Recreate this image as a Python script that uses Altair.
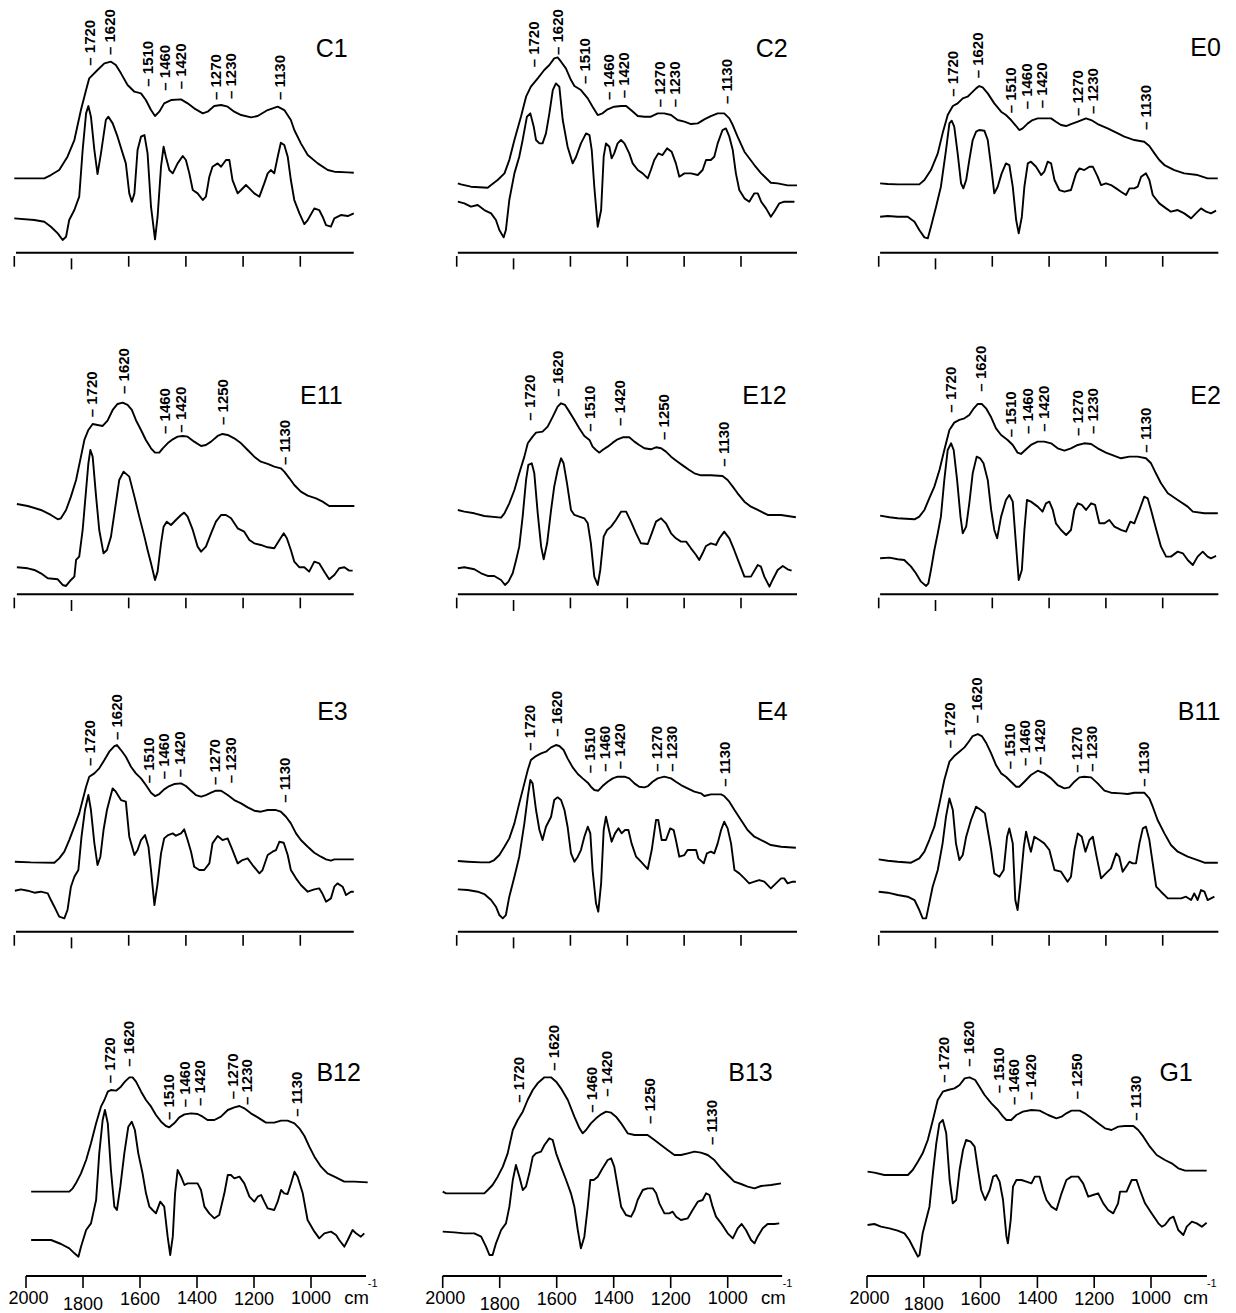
import altair as alt
import pandas as pd

# ---------------- data (wavenumber cm-1, intensity in arbitrary units) ----------------
TICKS = [2000, 1800, 1600, 1400, 1200, 1000]
TICK_LABELS = ["2000", "1800", "1600", "1400", "1200", "1000"]
TICK_LABEL_AT = [1991, 1800, 1600, 1400, 1200, 1000]

C1_upper = [(2000,223),(1895,223),(1872,233),(1843,248),(1814,288),(1790,338),(1767,428),(1749,488),(1738,523),(1709,548),(1685,568),(1662,573),(1645,563),(1627,538),(1604,503),(1580,483),(1557,478),(1540,458),(1522,428),(1508,410),(1493,423),(1476,448),(1452,458),(1417,460),(1394,448),(1371,433),(1341,418),(1324,423),(1301,440),(1277,443),(1254,438),(1231,423),(1207,413),(1172,406),(1149,410),(1114,428),(1079,438),(1056,428),(1033,398),(1021,368),(998,328),(974,293),(939,268),(904,248),(881,243),(834,241),(813,240)]
C1_lower = [(2000,103),(1930,98),(1895,93),(1872,78),(1848,58),(1831,38),(1819,48),(1808,98),(1790,128),(1773,168),(1761,308),(1749,418),(1741,440),(1732,408),(1720,308),(1709,236),(1697,298),(1680,398),(1671,408),(1656,388),(1639,348),(1621,298),(1610,268),(1598,178),(1589,153),(1580,178),(1569,308),(1557,348),(1545,353),(1534,298),(1522,138),(1508,40),(1499,108),(1487,258),(1478,318),(1470,288),(1458,248),(1446,238),(1429,268),(1411,290),(1400,278),(1388,238),(1376,188),(1359,178),(1341,158),(1330,168),(1318,228),(1307,258),(1289,268),(1277,258),(1260,278),(1248,278),(1237,218),(1219,178),(1207,188),(1190,203),(1178,193),(1161,178),(1143,168),(1126,208),(1114,238),(1103,248),(1091,238),(1079,288),(1068,330),(1056,323),(1044,288),(1033,218),(1021,158),(1003,118),(986,86),(974,98),(951,133),(934,128),(922,108),(910,83),(893,78),(881,103),(858,113),(834,110),(813,118)]
C1_peaks = [("1720",1734,561),("1620",1664,593),("1510",1531,498),("1460",1473,486),("1420",1417,490),("1270",1295,458),("1230",1242,461),("1130",1070,458)]

C2_upper = [(1996,208),(1985,205),(1950,198),(1891,195),(1879,203),(1856,218),(1832,238),(1815,278),(1797,338),(1774,408),(1756,468),(1739,498),(1715,523),(1692,548),(1674,563),(1657,583),(1645,586),(1633,573),(1616,553),(1598,518),(1586,500),(1563,488),(1539,463),(1522,438),(1504,413),(1487,418),(1469,430),(1446,438),(1422,440),(1404,440),(1387,428),(1363,410),(1340,408),(1317,408),(1293,418),(1270,418),(1246,413),(1223,398),(1199,393),(1176,386),(1152,388),(1129,400),(1106,410),(1082,418),(1059,418),(1041,403),(1029,383),(1012,348),(988,303),(953,263),(929,238),(895,210),(871,208),(836,202),(803,202)]
C2_lower = [(1996,153),(1973,148),(1950,138),(1926,143),(1903,128),(1879,118),(1862,98),(1850,68),(1835,46),(1827,68),(1815,158),(1797,238),(1780,288),(1768,338),(1753,408),(1741,418),(1729,378),(1721,338),(1709,328),(1698,328),(1686,358),(1674,418),(1662,488),(1651,508),(1639,498),(1627,398),(1610,318),(1592,268),(1580,288),(1563,328),(1545,358),(1533,353),(1525,308),(1516,198),(1504,78),(1492,128),(1483,288),(1475,328),(1463,318),(1455,283),(1446,298),(1434,328),(1422,338),(1410,328),(1393,298),(1381,268),(1363,248),(1346,238),(1328,223),(1317,248),(1305,278),(1291,298),(1276,293),(1260,313),(1244,303),(1229,268),(1217,228),(1199,238),(1176,238),(1152,233),(1135,248),(1123,278),(1106,278),(1094,288),(1082,328),(1065,368),(1053,373),(1041,348),(1029,308),(1018,238),(1006,188),(988,163),(971,153),(953,178),(941,178),(929,153),(912,133),(895,108),(883,123),(865,148),(848,153),(824,153),(812,153)]
C2_peaks = [("1720",1727,556),("1620",1645,593),("1510",1549,506),("1460",1465,458),("1420",1413,463),("1270",1285,436),("1230",1231,436),("1130",1051,446)]

E0_upper = [(1995,208),(1968,206),(1933,205),(1857,205),(1839,218),(1816,248),(1792,298),(1775,358),(1757,413),(1739,440),(1722,448),(1704,463),(1687,468),(1675,478),(1657,493),(1646,500),(1634,496),(1616,478),(1593,448),(1569,423),(1552,413),(1534,398),(1516,380),(1505,368),(1493,373),(1475,388),(1458,398),(1440,403),(1417,403),(1393,403),(1376,393),(1358,383),(1340,380),(1323,386),(1299,393),(1270,403),(1252,398),(1229,386),(1194,373),(1158,358),(1135,348),(1100,338),(1065,333),(1047,320),(1029,298),(1012,278),(994,263),(959,248),(924,238),(877,233),(842,223),(806,223)]
E0_lower = [(1995,108),(1968,110),(1933,108),(1898,108),(1874,93),(1857,68),(1839,46),(1827,43),(1816,78),(1798,138),(1781,198),(1763,308),(1751,388),(1743,396),(1734,378),(1722,298),(1710,208),(1702,193),(1692,218),(1681,278),(1669,338),(1657,363),(1646,368),(1628,366),(1616,338),(1604,258),(1593,178),(1581,198),(1567,238),(1552,268),(1540,263),(1528,198),(1516,98),(1507,58),(1496,108),(1487,198),(1475,268),(1464,273),(1446,258),(1428,233),(1417,243),(1405,273),(1393,268),(1381,218),(1364,188),(1346,183),(1323,188),(1305,238),(1293,253),(1276,248),(1258,258),(1246,258),(1229,228),(1217,203),(1200,208),(1182,203),(1164,193),(1147,183),(1129,173),(1117,193),(1100,193),(1088,198),(1076,228),(1059,238),(1047,218),(1035,173),(1012,148),(988,133),(971,123),(947,128),(924,118),(900,103),(883,118),(865,133),(847,123),(830,118),(812,126)]
E0_peaks = [("1720",1739,468),("1620",1651,523),("1510",1534,418),("1460",1478,430),("1420",1426,433),("1270",1299,410),("1230",1244,416),("1130",1059,368)]

E11_upper = [(1991,271),(1953,265),(1907,253),(1872,238),(1848,225),(1837,228),(1819,253),(1802,293),(1784,343),(1767,413),(1755,463),(1741,493),(1726,511),(1709,508),(1691,505),(1674,521),(1656,553),(1639,571),(1621,575),(1604,568),(1589,553),(1575,523),(1557,493),(1540,463),(1522,438),(1508,425),(1493,425),(1481,438),(1464,453),(1446,465),(1429,473),(1411,475),(1394,473),(1371,458),(1347,445),(1330,448),(1312,458),(1289,475),(1272,481),(1254,478),(1231,468),(1207,453),(1184,433),(1161,413),(1138,398),(1114,391),(1091,383),(1068,378),(1056,368),(1038,348),(1021,328),(998,308),(974,296),(945,288),(922,278),(899,265),(870,265),(811,265)]
E11_lower = [(1991,81),(1953,78),(1930,73),(1907,63),(1883,48),(1848,45),(1831,28),(1819,25),(1802,43),(1790,53),(1784,103),(1773,113),(1761,193),(1749,313),(1741,393),(1734,433),(1726,413),(1714,293),(1703,193),(1688,123),(1676,133),(1662,173),(1645,273),(1633,343),(1618,368),(1598,353),(1580,293),(1563,233),(1545,173),(1534,133),(1522,93),(1508,43),(1499,68),(1487,153),(1478,203),(1467,218),(1452,208),(1435,223),(1417,238),(1406,245),(1394,233),(1376,193),(1359,143),(1347,128),(1330,143),(1312,183),(1295,218),(1277,238),(1260,238),(1242,228),(1219,198),(1196,188),(1178,163),(1161,153),(1138,148),(1114,141),(1091,138),(1073,163),(1058,183),(1047,168),(1033,133),(1021,98),(1003,81),(986,81),(969,68),(951,98),(934,93),(916,68),(899,45),(881,58),(864,78),(846,81),(829,71),(817,71)]
E11_peaks = [("1720",1730,531),("1620",1615,601),("1460",1472,481),("1420",1417,485),("1250",1272,508),("1130",1052,388)]

E12_upper = [(1996,253),(1973,248),(1938,243),(1903,235),(1844,230),(1832,243),(1815,273),(1797,313),(1780,363),(1762,413),(1750,453),(1733,473),(1721,485),(1698,488),(1680,503),(1662,533),(1645,563),(1633,573),(1619,568),(1604,548),(1586,523),(1569,498),(1551,475),(1533,463),(1522,443),(1510,433),(1498,425),(1487,433),(1469,443),(1451,455),(1434,465),(1416,471),(1393,471),(1375,458),(1358,448),(1340,438),(1317,435),(1299,441),(1281,438),(1264,428),(1246,413),(1223,398),(1199,383),(1182,373),(1164,363),(1141,357),(1106,357),(1065,355),(1047,343),(1029,323),(1012,303),(988,278),(965,263),(941,253),(906,238),(859,238),(807,231)]
E12_lower = [(1996,78),(1973,81),(1938,75),(1914,63),(1891,55),(1868,55),(1844,43),(1830,28),(1818,38),(1803,63),(1791,103),(1780,143),(1768,233),(1756,343),(1748,388),(1736,393),(1727,363),(1715,243),(1703,143),(1694,105),(1682,153),(1668,253),(1657,323),(1645,373),(1633,408),(1624,393),(1612,333),(1598,253),(1586,238),(1569,233),(1551,228),(1539,213),(1528,153),(1516,53),(1504,28),(1495,73),(1483,173),(1471,193),(1457,203),(1440,223),(1422,248),(1404,248),(1387,218),(1369,183),(1352,153),(1328,151),(1314,183),(1299,218),(1281,228),(1264,213),(1246,183),(1229,168),(1211,158),(1193,158),(1176,138),(1158,118),(1147,103),(1135,123),(1123,145),(1106,153),(1088,148),(1076,168),(1059,188),(1041,168),(1024,133),(1006,93),(988,53),(965,53),(941,88),(930,83),(918,53),(900,23),(889,43),(871,73),(853,85),(836,75),(822,71)]
E12_peaks = [("1720",1741,521),("1620",1645,593),("1510",1530,488),("1420",1424,505),("1250",1270,463),("1130",1059,383)]

E2_upper = [(1995,236),(1962,231),(1933,228),(1874,225),(1857,233),(1839,253),(1822,288),(1804,323),(1786,373),(1769,433),(1751,493),(1734,515),(1716,523),(1698,528),(1681,538),(1665,558),(1651,571),(1637,571),(1622,558),(1604,531),(1587,498),(1569,478),(1546,463),(1528,448),(1511,425),(1499,421),(1481,435),(1464,448),(1440,458),(1417,458),(1393,453),(1370,438),(1346,431),(1323,438),(1299,448),(1276,453),(1252,451),(1229,438),(1200,425),(1170,415),(1147,408),(1117,413),(1088,413),(1059,408),(1041,393),(1024,363),(1006,333),(982,303),(947,283),(912,263),(894,248),(853,243),(806,243)]
E2_lower = [(1995,108),(1962,110),(1933,105),(1910,103),(1886,83),(1869,63),(1851,38),(1833,25),(1825,33),(1816,73),(1804,133),(1792,183),(1781,233),(1769,343),(1757,433),(1745,453),(1736,433),(1724,343),(1712,233),(1704,183),(1692,203),(1681,273),(1669,363),(1655,413),(1643,408),(1631,393),(1616,343),(1604,253),(1593,193),(1583,168),(1569,233),(1552,283),(1540,298),(1528,278),(1516,143),(1507,43),(1496,73),(1487,193),(1478,283),(1464,278),(1440,263),(1423,248),(1411,273),(1399,278),(1387,253),(1376,213),(1358,193),(1340,178),(1323,193),(1311,253),(1299,273),(1285,268),(1270,253),(1252,273),(1238,268),(1223,213),(1205,213),(1188,223),(1170,203),(1147,193),(1129,188),(1114,218),(1100,213),(1082,253),(1065,293),(1053,288),(1041,253),(1024,198),(1006,143),(988,113),(971,113),(947,128),(929,123),(912,103),(894,88),(877,113),(859,128),(842,113),(830,108),(812,115)]
E2_peaks = [("1720",1745,545),("1620",1640,608),("1510",1534,471),("1460",1473,481),("1420",1419,488),("1270",1299,475),("1230",1244,481),("1130",1059,425)]

E3_upper = [(1998,210),(1942,208),(1860,207),(1843,220),(1825,240),(1808,275),(1790,315),(1773,355),(1761,395),(1749,435),(1738,465),(1720,475),(1703,490),(1685,515),(1668,540),(1650,557),(1641,560),(1627,545),(1610,525),(1592,495),(1575,475),(1557,460),(1540,440),(1522,417),(1508,407),(1493,413),(1476,427),(1458,437),(1441,443),(1417,445),(1400,437),(1382,423),(1365,410),(1347,405),(1330,410),(1312,417),(1295,423),(1277,423),(1254,410),(1231,395),(1207,385),(1184,373),(1161,363),(1138,360),(1114,365),(1085,365),(1068,360),(1050,345),(1033,325),(1015,295),(998,275),(974,255),(951,237),(928,225),(910,217),(893,213),(881,217),(858,217),(813,217)]
E3_lower = [(1998,123),(1977,127),(1953,123),(1930,117),(1907,120),(1883,115),(1872,95),(1860,75),(1843,45),(1825,40),(1814,65),(1802,135),(1790,165),(1776,185),(1765,285),(1753,365),(1741,410),(1732,365),(1720,265),(1709,200),(1699,225),(1688,305),(1676,365),(1664,405),(1656,430),(1645,420),(1627,395),(1610,390),(1598,285),(1580,230),(1569,245),(1557,275),(1543,290),(1531,255),(1522,185),(1510,80),(1499,145),(1487,235),(1476,280),(1462,290),(1446,295),(1435,288),(1417,295),(1406,307),(1394,275),(1382,240),(1371,195),(1353,185),(1336,185),(1318,205),(1307,265),(1289,287),(1272,275),(1254,280),(1237,245),(1219,205),(1202,215),(1184,220),(1167,200),(1143,175),(1132,185),(1114,230),(1097,240),(1085,245),(1073,270),(1058,267),(1044,230),(1033,185),(1015,160),(998,140),(974,120),(951,127),(934,130),(922,113),(910,90),(893,100),(881,135),(870,145),(852,135),(840,110),(823,120),(813,120)]
E3_peaks = [("1720",1734,497),("1620",1641,575),("1510",1530,445),("1460",1476,457),("1420",1421,463),("1270",1297,440),("1230",1242,445),("1130",1054,387)]

E4_upper = [(1996,212),(1961,210),(1914,208),(1885,208),(1868,215),(1850,230),(1832,255),(1815,280),(1797,325),(1780,385),(1762,445),(1750,485),(1739,515),(1721,527),(1703,535),(1686,540),(1668,553),(1651,560),(1639,557),(1624,545),(1610,520),(1592,493),(1574,473),(1557,460),(1539,447),(1528,435),(1516,425),(1502,423),(1487,437),(1469,450),(1451,460),(1434,465),(1410,465),(1393,460),(1375,445),(1358,435),(1340,433),(1327,437),(1311,450),(1293,460),(1270,465),(1246,460),(1229,450),(1211,440),(1188,430),(1164,420),(1141,415),(1129,407),(1106,412),(1070,412),(1059,407),(1041,390),(1023,365),(1000,335),(977,305),(953,285),(918,270),(895,260),(859,255),(807,252)]
E4_lower = [(1996,127),(1961,125),(1926,120),(1903,113),(1879,95),(1862,75),(1850,50),(1838,40),(1827,50),(1815,105),(1797,165),(1780,225),(1762,325),(1750,405),(1741,455),(1733,445),(1721,365),(1709,305),(1698,275),(1686,315),(1668,345),(1657,395),(1645,403),(1633,395),(1621,365),(1610,315),(1598,235),(1586,210),(1574,225),(1563,245),(1551,285),(1539,315),(1530,295),(1522,185),(1510,85),(1502,60),(1492,145),(1483,305),(1475,345),(1467,315),(1455,270),(1443,295),(1431,310),(1420,295),(1408,305),(1396,305),(1385,265),(1369,225),(1352,210),(1328,188),(1314,245),(1299,335),(1291,335),(1279,275),(1264,275),(1249,310),(1237,305),(1229,275),(1217,225),(1199,230),(1188,245),(1170,245),(1158,245),(1150,220),(1131,205),(1120,235),(1106,240),(1094,235),(1082,265),(1070,305),(1059,330),(1047,310),(1035,265),(1023,185),(1006,175),(988,160),(971,145),(953,150),(936,155),(918,150),(895,130),(877,145),(859,160),(848,160),(836,145),(818,150),(807,150)]
E4_peaks = [("1720",1741,543),("1620",1647,585),("1510",1530,475),("1460",1478,480),("1420",1424,487),("1270",1295,480),("1230",1243,480),("1130",1056,435)]

B11_upper = [(2000,217),(1968,213),(1933,210),(1886,207),(1857,220),(1839,240),(1822,275),(1804,315),(1786,385),(1769,455),(1751,510),(1734,527),(1716,540),(1698,553),(1683,570),(1669,587),(1651,593),(1637,587),(1622,567),(1604,535),(1587,500),(1569,475),(1552,465),(1534,450),(1516,435),(1505,435),(1487,450),(1464,470),(1440,483),(1417,475),(1393,460),(1370,440),(1346,430),(1329,433),(1311,450),(1293,463),(1276,465),(1252,463),(1229,445),(1205,423),(1182,417),(1147,415),(1123,413),(1100,417),(1065,417),(1047,400),(1035,375),(1018,335),(994,295),(971,260),(947,240),(912,225),(877,215),(853,207),(806,207)]
B11_lower = [(2000,120),(1968,117),(1933,110),(1898,105),(1874,95),(1857,65),(1845,40),(1833,40),(1822,85),(1810,135),(1792,185),(1775,265),(1763,345),(1751,400),(1739,365),(1728,265),(1716,215),(1704,230),(1692,285),(1675,335),(1657,375),(1640,365),(1626,355),(1616,305),(1604,245),(1593,175),(1575,165),(1560,185),(1548,285),(1540,310),(1528,265),(1519,95),(1511,65),(1501,145),(1489,255),(1481,300),(1469,255),(1464,240),(1452,285),(1434,275),(1417,265),(1399,245),(1381,185),(1358,180),(1335,150),(1323,165),(1311,245),(1299,295),(1285,285),(1272,240),(1258,275),(1246,285),(1235,235),(1217,160),(1200,175),(1182,190),(1164,235),(1153,225),(1141,180),(1129,195),(1117,210),(1106,205),(1094,205),(1082,265),(1070,310),(1059,315),(1047,275),(1035,205),(1023,135),(1006,120),(982,100),(959,100),(935,100),(918,105),(900,95),(889,115),(877,95),(865,125),(853,120),(842,95),(818,105)]
B11_peaks = [("1720",1748,550),("1620",1654,625),("1510",1538,487),("1460",1485,497),("1420",1431,500),("1270",1303,477),("1230",1250,480),("1130",1065,435)]

B12_upper = [(1982,253),(1912,253),(1848,253),(1836,263),(1825,278),(1807,308),(1789,348),(1772,398),(1754,458),(1737,508),(1725,528),(1713,553),(1702,558),(1684,556),(1667,568),(1653,583),(1637,596),(1626,596),(1614,583),(1596,553),(1579,528),(1561,508),(1544,483),(1526,463),(1509,450),(1497,446),(1480,458),(1462,476),(1444,485),(1421,488),(1398,486),(1380,478),(1363,468),(1339,468),(1316,478),(1292,498),(1269,506),(1251,510),(1234,503),(1211,488),(1187,476),(1158,460),(1129,460),(1105,466),(1082,466),(1058,458),(1041,443),(1023,420),(1006,388),(988,358),(965,328),(942,308),(918,298),(883,283),(848,283),(801,281)]
B12_lower = [(1982,108),(1947,108),(1912,108),(1877,96),(1848,83),(1830,68),(1816,58),(1807,88),(1789,138),(1772,158),(1754,228),(1743,368),(1731,468),(1723,498),(1713,458),(1702,318),(1690,208),(1681,198),(1669,268),(1655,368),(1641,448),(1629,463),(1618,438),(1606,368),(1591,308),(1579,248),(1567,208),(1556,198),(1544,188),(1529,223),(1515,208),(1503,118),(1494,63),(1485,118),(1477,248),(1468,318),(1456,298),(1444,273),(1433,278),(1415,278),(1398,278),(1386,258),(1374,208),(1357,188),(1339,173),(1322,183),(1304,248),(1292,303),(1281,303),(1269,293),(1251,298),(1234,278),(1216,238),(1199,223),(1187,238),(1175,243),(1164,223),(1152,203),(1129,198),(1117,223),(1105,258),(1094,248),(1082,246),(1070,278),(1058,313),(1047,298),(1029,248),(1012,168),(988,133),(971,113),(953,128),(930,133),(912,123),(901,108),(883,88),(871,108),(854,138),(842,128),(825,118),(813,128)]
B12_peaks = [("1720",1704,578),("1620",1637,628),("1510",1499,468),("1460",1441,506),("1420",1388,510),("1270",1275,530),("1230",1226,513),("1130",1050,478)]

B13_upper = [(2000,253),(1988,248),(1924,248),(1854,248),(1842,258),(1825,273),(1807,298),(1789,328),(1772,368),(1754,438),(1737,468),(1719,493),(1702,528),(1684,558),(1667,578),(1643,596),(1620,596),(1602,583),(1585,563),(1561,528),(1538,478),(1520,443),(1509,428),(1497,438),(1480,458),(1462,473),(1444,485),(1427,493),(1409,490),(1392,478),(1374,458),(1351,428),(1327,423),(1304,423),(1281,423),(1257,408),(1234,393),(1211,378),(1187,363),(1164,363),(1140,368),(1117,373),(1094,370),(1070,363),(1047,348),(1023,323),(1000,303),(977,283),(953,276),(930,268),(906,263),(883,270),(848,273),(813,278)]
B13_lower = [(2000,133),(1959,131),(1924,128),(1889,128),(1865,118),(1848,88),(1836,63),(1825,63),(1813,98),(1795,138),(1778,158),(1766,208),(1754,288),(1743,333),(1731,298),(1719,258),(1708,268),(1696,308),(1684,358),(1673,368),(1655,373),(1643,393),(1626,413),(1614,408),(1602,368),(1585,328),(1567,288),(1550,248),(1538,208),(1526,138),(1515,83),(1503,118),(1491,208),(1482,288),(1470,288),(1456,298),(1439,323),(1421,348),(1409,353),(1398,328),(1386,268),(1374,208),(1357,183),(1339,178),(1327,198),(1316,228),(1298,258),(1281,263),(1263,263),(1251,248),(1240,218),(1222,188),(1205,188),(1193,193),(1181,178),(1164,168),(1140,173),(1123,198),(1105,223),(1088,228),(1076,248),(1064,243),(1053,208),(1041,178),(1023,158),(1000,128),(982,113),(965,143),(951,156),(936,138),(918,108),(906,98),(895,118),(877,143),(860,156),(836,156),(819,158)]
B13_peaks = [("1720",1731,520),("1620",1611,616),("1460",1477,490),("1420",1425,538),("1250",1271,456),("1130",1056,393)]

G1_upper = [(1998,313),(1974,310),(1939,303),(1856,303),(1839,318),(1821,343),(1804,368),(1786,408),(1768,468),(1751,528),(1733,553),(1715,558),(1692,563),(1674,573),(1656,593),(1639,596),(1619,588),(1604,568),(1586,543),(1562,518),(1539,498),(1521,478),(1509,468),(1492,468),(1474,483),(1451,493),(1421,498),(1392,496),(1362,483),(1333,473),(1315,478),(1298,488),(1280,496),(1251,496),(1233,488),(1209,473),(1186,458),(1162,443),(1139,438),(1115,448),(1092,450),(1062,450),(1045,438),(1027,418),(1004,388),(980,363),(951,348),(927,338),(904,323),(880,316),(845,316),(804,316)]
G1_lower = [(1998,153),(1974,156),(1951,148),(1921,143),(1892,136),(1868,128),(1851,108),(1833,78),(1821,58),(1815,63),(1804,128),(1792,168),(1780,208),(1768,308),(1756,398),(1745,458),(1733,468),(1721,428),(1709,288),(1698,218),(1686,228),(1674,318),(1662,378),(1651,408),(1635,403),(1621,388),(1609,318),(1598,258),(1584,228),(1568,258),(1556,298),(1545,303),(1533,283),(1521,228),(1509,118),(1504,98),(1494,168),(1486,268),(1474,288),(1456,288),(1439,283),(1421,278),(1409,298),(1392,298),(1380,258),(1368,228),(1351,208),(1333,198),(1315,248),(1298,288),(1280,298),(1256,298),(1239,278),(1221,238),(1204,243),(1186,248),(1168,218),(1151,198),(1133,188),(1116,218),(1109,253),(1086,253),(1068,288),(1051,288),(1039,258),(1021,218),(998,188),(974,158),(962,148),(951,153),(933,173),(921,178),(904,138),(886,123),(874,148),(856,163),(839,158),(821,148),(804,160)]
G1_peaks = [("1720",1729,580),("1620",1642,628),("1510",1536,548),("1460",1482,513),("1420",1424,528),("1250",1260,530),("1130",1054,466)]

PANEL_NAMES = [["C1", "C2", "E0"], ["E11", "E12", "E2"], ["E3", "E4", "B11"], ["B12", "B13", "G1"]]
SERIES = {
    "C1": (C1_upper, C1_lower, C1_peaks), "C2": (C2_upper, C2_lower, C2_peaks), "E0": (E0_upper, E0_lower, E0_peaks),
    "E11": (E11_upper, E11_lower, E11_peaks), "E12": (E12_upper, E12_lower, E12_peaks), "E2": (E2_upper, E2_lower, E2_peaks),
    "E3": (E3_upper, E3_lower, E3_peaks), "E4": (E4_upper, E4_lower, E4_peaks), "B11": (B11_upper, B11_lower, B11_peaks),
    "B12": (B12_upper, B12_lower, B12_peaks), "B13": (B13_upper, B13_lower, B13_peaks), "G1": (G1_upper, G1_lower, G1_peaks),
}

# ---------------- layout (placement only) ----------------
W = 406
COL_X0 = [8, 414, 820]
ROWS = [(290, 244.7), (340, 296.3), (340, 293.7), (327, 298.0)]   # panel height, axis offset (px)
P2000 = [[13.3, 455.7, 877.7]] * 3 + [[25.0, 441.7, 866.0]]
KPX = [[0.286, 0.2843, 0.284]] * 3 + [[0.285, 0.285, 0.284]]
TITLE_AT = {"C1": (834, 588), "C2": (836, 588), "E0": (795, 590), "E11": (852, 571), "E12": (839, 571),
            "E2": (795, 571), "E3": (834, 635), "E4": (836, 635), "B11": (797, 635), "B12": (825, 586),
            "B13": (842, 586), "G1": (853, 585)}
AXIS_SPAN = {"C1": (1994, 813), "C2": (1996, 803), "E0": (1995, 804), "E11": (1991, 813), "E12": (1996, 803),
             "E2": (1995, 804), "E3": (1994, 813), "E4": (1996, 803), "B11": (1995, 804), "B12": (2000, 807),
             "B13": (2000, 809), "G1": (2000, 803)}
TICK_LABEL_BASE = [-84, -102, -88, -84, -88, -84]
CM_AT = {"B12": (883, 801), "B13": (883, 807), "G1": (886, 803)}
FONT = "Liberation Sans"


def build_panel(name, r, c):
    up, lo, peaks = SERIES[name]
    H, ax = ROWS[r]
    k = KPX[r][c]
    d0 = 2000 + (P2000[r][c] - COL_X0[c]) / k
    d1 = d0 - W / k
    xs = alt.Scale(domain=[d0, d1], nice=False, zero=False)
    ys = alt.Scale(domain=[-3 * (H - ax), 3 * ax], nice=False, zero=False)

    def X(f):
        return alt.X(f"{f}:Q", scale=xs, axis=None)

    def Y(f):
        return alt.Y(f"{f}:Q", scale=ys, axis=None)

    cur = pd.concat([
        pd.DataFrame(up, columns=["wn", "a"]).assign(s="absorbance"),
        pd.DataFrame(lo, columns=["wn", "a"]).assign(s="derivative"),
    ])
    layers = [alt.Chart(cur).mark_line(color="black", strokeWidth=1.9, strokeJoin="round").encode(
        x=X("wn"), y=Y("a"), detail="s:N")]

    pk = pd.DataFrame(peaks, columns=["lab", "wn", "a"])
    pk["txt"] = "\u2013 " + pk["lab"]
    layers.append(alt.Chart(pk).mark_text(angle=270, align="left", baseline="middle", fontSize=15,
                                          fontWeight="bold", color="black", font=FONT).encode(
        x=X("wn"), y=Y("a"), text="txt:N"))

    tx, ty = TITLE_AT[name]
    layers.append(alt.Chart(pd.DataFrame([{"wn": tx, "a": ty, "t": name}])).mark_text(
        align="right", baseline="alphabetic", fontSize=25, color="black", font=FONT).encode(
        x=X("wn"), y=Y("a"), text="t:N"))

    s0, s1 = AXIS_SPAN[name]
    layers.append(alt.Chart(pd.DataFrame([{"x0": s0, "x1": s1, "a": 0}])).mark_rule(
        strokeWidth=2, color="black").encode(x=X("x0"), x2="x1:Q", y=Y("a")))

    if r < 3:
        tops = [-10, -17, -10, -10, -10, -10]
        bots = [-42, -50, -42, -42, -42, -42]
    else:
        tops = [0] * 6
        bots = [-36] * 6
    tk = pd.DataFrame({"wn": TICKS, "top": tops, "bot": bots})
    layers.append(alt.Chart(tk).mark_rule(strokeWidth=1.6, color="black").encode(
        x=X("wn"), y=Y("top"), y2="bot:Q"))

    if r == 3:
        tl = pd.DataFrame({"wn": TICK_LABEL_AT, "lab": TICK_LABELS, "a": TICK_LABEL_BASE})
        layers.append(alt.Chart(tl).mark_text(align="center", baseline="alphabetic", fontSize=18,
                                              color="black", font=FONT).encode(
            x=X("wn"), y=Y("a"), text="lab:N"))
        cx, sx = CM_AT[name]
        layers.append(alt.Chart(pd.DataFrame([{"wn": cx, "a": -84, "t": "cm"}])).mark_text(
            align="left", baseline="alphabetic", fontSize=18.5, color="black", font=FONT).encode(
            x=X("wn"), y=Y("a"), text="t:N"))
        layers.append(alt.Chart(pd.DataFrame([{"wn": sx, "a": -34, "t": "-1"}])).mark_text(
            align="left", baseline="alphabetic", fontSize=11, color="black", font=FONT).encode(
            x=X("wn"), y=Y("a"), text="t:N"))

    return alt.layer(*layers).properties(width=W, height=H)


panels = []
for r, names in enumerate(PANEL_NAMES):
    for c, n in enumerate(names):
        panels.append(build_panel(n, r, c))

chart = alt.concat(*panels, columns=3, spacing=0, bounds="flush", padding=0).configure(
    font=FONT, view=alt.ViewConfig(stroke=None))

chart.save("out.html", embed_options={"renderer": "svg", "actions": False})
